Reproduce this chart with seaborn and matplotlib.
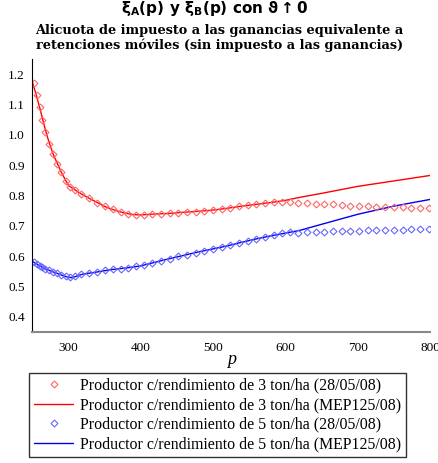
import matplotlib
matplotlib.use("Agg")
import matplotlib.pyplot as plt
import seaborn as sns
import numpy as np
from matplotlib.ticker import MultipleLocator

# ---- data ----
p_pts = [252, 256, 260, 264, 268, 273, 278, 284, 290, 296, 302, 309, 318, 328, 339,
         350, 361, 372, 383, 394, 405, 416, 428, 440, 452, 464, 476, 488, 500, 512,
         524, 536, 548, 560, 572, 584, 596, 606, 618, 630, 642, 654, 666, 678, 690,
         702, 714, 726, 738, 750, 762, 774, 786, 798]
red_pts = [1.170, 1.130, 1.092, 1.050, 1.010, 0.969, 0.938, 0.905, 0.877, 0.849, 0.827,
           0.819, 0.804, 0.791, 0.776, 0.764, 0.754, 0.746, 0.740, 0.736, 0.736, 0.738,
           0.740, 0.741, 0.743, 0.745, 0.746, 0.748, 0.751, 0.754, 0.759, 0.764, 0.768,
           0.771, 0.774, 0.777, 0.779, 0.780, 0.776, 0.774, 0.773, 0.772, 0.771, 0.769,
           0.767, 0.765, 0.764, 0.763, 0.763, 0.762, 0.761, 0.760, 0.759, 0.758]
blue_pts = [0.581, 0.573, 0.568, 0.563, 0.558, 0.553, 0.549, 0.544, 0.538, 0.533, 0.530,
            0.533, 0.541, 0.545, 0.548, 0.553, 0.557, 0.559, 0.562, 0.566, 0.570, 0.577,
            0.585, 0.592, 0.599, 0.605, 0.611, 0.617, 0.623, 0.629, 0.636, 0.644, 0.651,
            0.657, 0.663, 0.669, 0.675, 0.679, 0.678, 0.679, 0.680, 0.681, 0.682, 0.683,
            0.683, 0.684, 0.685, 0.686, 0.686, 0.687, 0.687, 0.688, 0.688, 0.688]

p_red_line = [250, 255, 260, 265, 270, 275, 280, 290, 300, 310, 320, 330, 340, 350, 360,
              370, 380, 390, 400, 420, 440, 460, 480, 500, 520, 540, 560, 580, 600, 620,
              650, 700, 750, 800]
red_line = [1.175, 1.135, 1.092, 1.045, 1.000, 0.962, 0.930, 0.877, 0.833, 0.817, 0.802,
            0.789, 0.777, 0.764, 0.755, 0.747, 0.741, 0.737, 0.736, 0.739, 0.741, 0.745,
            0.748, 0.752, 0.758, 0.765, 0.771, 0.777, 0.784, 0.794, 0.807, 0.830, 0.848,
            0.866]
p_blue_line = [250, 260, 270, 280, 290, 300, 305, 310, 320, 340, 360, 380, 400, 420, 440,
               460, 480, 500, 520, 540, 560, 580, 600, 620, 650, 700, 750, 800]
blue_line = [0.583, 0.568, 0.556, 0.547, 0.538, 0.530, 0.529, 0.533, 0.541, 0.548, 0.556,
             0.561, 0.568, 0.580, 0.592, 0.603, 0.614, 0.624, 0.634, 0.646, 0.657, 0.667,
             0.676, 0.685, 0.705, 0.738, 0.765, 0.787]

labels = ["Productor c/rendimiento de 3 ton/ha (28/05/08)",
          "Productor c/rendimiento de 3 ton/ha (MEP125/08)",
          "Productor c/rendimiento de 5 ton/ha (28/05/08)",
          "Productor c/rendimiento de 5 ton/ha (MEP125/08)"]
title_lines = "Alicuota de impuesto a las ganancias equivalente a\nretenciones móviles (sin impuesto a las ganancias)"
top_text = r"$\mathbf{\xi_A(p)}$ y $\mathbf{\xi_B(p)}$ con $\mathbf{\vartheta\uparrow 0}$"

sns.set_style("white")
plt.rcParams['font.family'] = ['Liberation Serif', 'DejaVu Serif']
plt.rcParams['text.color'] = 'black'
plt.rcParams['axes.labelcolor'] = 'black'
plt.rcParams['xtick.color'] = 'black'
plt.rcParams['ytick.color'] = 'black'

fig = plt.figure(figsize=(4.39, 4.63), dpi=100)
ax = fig.add_axes([32.3/439, 1-332/463, (430-32.3)/439, (332-59)/463])

red = "#ff0000"
red_m = "#ff6666"
blue = "#0000ee"
blue_m = "#6666ff"

sns.lineplot(x=p_red_line, y=red_line, ax=ax, color=red, lw=1.0, label=labels[1])
sns.lineplot(x=p_blue_line, y=blue_line, ax=ax, color=blue, lw=1.0, label=labels[3])
sns.lineplot(x=p_pts, y=red_pts, ax=ax, linestyle='', marker='D', markersize=3.5,
             markerfacecolor='none', markeredgecolor=red_m, markeredgewidth=0.8,
             color=red_m, label=labels[0])
sns.lineplot(x=p_pts, y=blue_pts, ax=ax, linestyle='', marker='D', markersize=3.5,
             markerfacecolor='none', markeredgecolor=blue_m, markeredgewidth=0.8,
             color=blue_m, label=labels[2])

ax.set_xlim(250, 800)
ax.set_ylim(0.35, 1.25)
ax.xaxis.set_minor_locator(MultipleLocator(50))
ax.yaxis.set_major_locator(MultipleLocator(0.1))
ax.yaxis.set_minor_locator(MultipleLocator(0.05))
ax.set_xticks([300, 400, 500, 600, 700, 800])
ax.tick_params(axis='x', which='major', direction='in', length=4, width=0.8,
               labelsize=9.5, pad=7, colors='black')
ax.tick_params(axis='x', which='minor', direction='in', length=3, width=0.8)
ax.tick_params(axis='y', which='major', direction='inout', length=7, width=0.8,
               labelsize=9.5, pad=2, colors='black')
ax.tick_params(axis='y', which='minor', direction='out', length=3, width=0.8)
ax.yaxis.set_major_formatter(plt.FuncFormatter(lambda v, _: f"{v:.1f}"))
for s in ['top', 'right']:
    ax.spines[s].set_visible(False)
ax.spines['left'].set_color('black')
ax.spines['left'].set_linewidth(0.8)
ax.spines['bottom'].set_color('#888888')
ax.spines['bottom'].set_linewidth(1.5)
ax.set_xlabel("p", fontsize=13, fontstyle='italic', labelpad=-2)
ax.set_ylabel("")

handles, labs = ax.get_legend_handles_labels()
order = [labs.index(l) for l in labels]
ax.get_legend().remove()
leg = fig.legend([handles[i] for i in order], [labs[i] for i in order],
                 loc='upper left', bbox_to_anchor=(29/439, 1-373/463),
                 fancybox=False, frameon=True, edgecolor='black', fontsize=11.4,
                 handlelength=2.5, handletextpad=0.45, labelspacing=0.22,
                 borderpad=0.3, borderaxespad=0)
leg.get_frame().set_linewidth(1.0)

fig.text(0.5, 1-38/463, title_lines, ha='center', va='center',
         fontsize=9.3, fontweight='bold', family=['DejaVu Serif'], linespacing=1.15)
fig.text(0.49, 1-9/463, top_text, ha='center', va='center', fontsize=11,
         family=['DejaVu Sans'], fontweight='bold')

fig.savefig("out.png", dpi=100)
